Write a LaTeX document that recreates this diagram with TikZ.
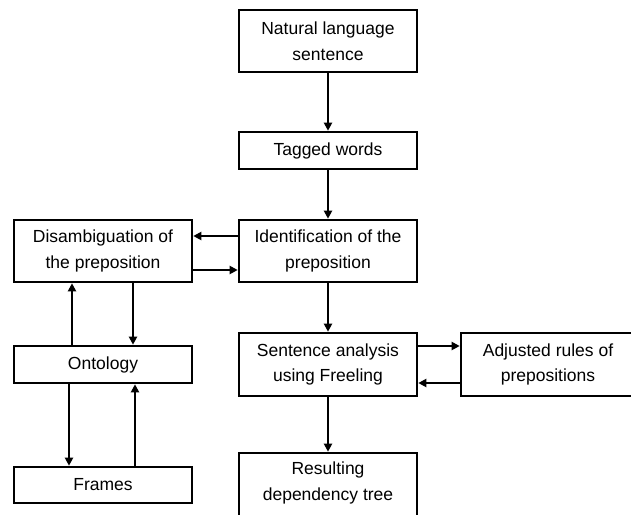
\documentclass[tikz,border=0pt]{standalone}
\usepackage{fontspec}
\setmainfont{Liberation Sans}
\usetikzlibrary{arrows.meta}
\tikzset{
  txt/.style={align=center, font=\fontsize{17.5}{25.5}\selectfont},
  box/.style={draw=black, line width=2.6pt, fill=white, inner sep=0pt, txt},
  arr/.style={line width=2.6pt, -{Triangle[length=8pt,width=8pt]}},
}
\begin{document}
\begin{tikzpicture}[x=1pt,y=-1pt]
\useasboundingbox (0,0) rectangle (631,514);
\clip (0,0) rectangle (631,514);
\node[box, minimum width=178pt, minimum height=62pt] (nat) at (328,41) {Natural language\\sentence};
\node[box, minimum width=178pt, minimum height=37pt] (tag) at (328,150.5) {Tagged words};
\node[box, minimum width=178pt, minimum height=62pt] (ident) at (328,251) {Identification of the\\preposition};
\node[box, minimum width=178pt, minimum height=62pt] (dis) at (103,251) {Disambiguation of\\the preposition};
\node[box, minimum width=178pt, minimum height=37pt] (ont) at (103,364.5) {Ontology};
\node[box, minimum width=178pt, minimum height=36pt] (frm) at (103,485) {Frames};
\node[box, minimum width=178pt, minimum height=63pt] (sent) at (328,364.5) {Sentence analysis\\using Freeling};
\node[box, minimum width=199pt, minimum height=63pt] (adj) at (560.5,364.5) {};
\node[txt] (adjt) at (548,364.5) {Adjusted rules of\\prepositions};
\node[box, minimum width=178pt, minimum height=77pt] (res) at (328,491.5) {};
\node[txt] (rest) at (328,483) {Resulting\\dependency tree};
\draw[arr] (nat.south) -- (tag.north);
\draw[arr] (tag.south) -- (ident.north);
\draw[arr] (ident.south) -- (sent.north);
\draw[arr] (sent.south) -- (res.north);
\draw[arr] ([yshift=15pt]ident.west) -- ([yshift=15pt]dis.east);
\draw[arr] ([yshift=-19pt]dis.east) -- ([yshift=-19pt]ident.west);
\draw[arr] ([yshift=18.5pt]sent.east) -- ([yshift=18.5pt]adj.west);
\draw[arr] ([yshift=-18.5pt]adj.west) -- ([yshift=-18.5pt]sent.east);
\draw[arr] ([xshift=-31pt]ont.north) -- ([xshift=-31pt]dis.south);
\draw[arr] ([xshift=30pt]dis.south) -- ([xshift=30pt]ont.north);
\draw[arr] ([xshift=-34pt]ont.south) -- ([xshift=-34pt]frm.north);
\draw[arr] ([xshift=32pt]frm.north) -- ([xshift=32pt]ont.south);
\end{tikzpicture}
\end{document}
